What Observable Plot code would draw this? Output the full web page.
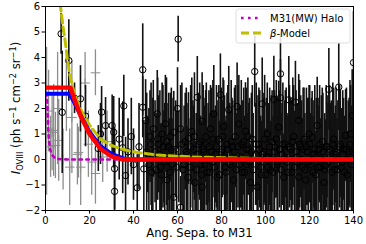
<!DOCTYPE html>
<html><head><meta charset="utf-8">
<script src="https://cdn.jsdelivr.net/npm/d3@7"></script>
<script src="https://cdn.jsdelivr.net/npm/@observablehq/plot@0.6"></script>
<style>body{margin:0;background:#fff;font-family:"DejaVu Sans",sans-serif}#wrap{width:366px;height:244px}</style>
</head><body><div id="wrap"></div><script>
const xTicks = [0,20,40,60,80,100,120,140];
const yTicks = [-2,-1,0,1,2,3,4,5,6];
const xLabel = "Ang. Sepa. to M31";
const legendNames = ["M31(MW) Halo", "-Model"];

// gray points [x, y, err]
const grayPts = [[0.5,1.5,2.9],[1.4,1.9,1.6],[2.3,0.5,1.2],[3,1.06,1.5],[3.7,1.14,1.8],[4.5,0.55,1.3],[5.5,2.0,2.2],[6,0.75,1.6],[8,0.0,1.2],[9.5,2.6,1.5],[11,-0.3,1.5],[12,1.65,2.2],[14.5,0.2,1.2],[15,0.27,1.0],[16,-0.3,1.5],[18,3.0,1.2],[19.5,0.6,1.3],[21,-0.1,1.3],[22.7,3.4,0.9],[22.7,-0.55,1.2],[26,0.1,1.0],[28,0.7,1.2]];

// black points [x, y, err]
const blackPts = [[7.1,4.93,0.8],[7.6,1.85,2.4],[10.6,3.88,1.6],[13.2,2.4,0.6],[15.9,2.38,1.3],[18.2,1.7,1.2],[24,0.43,0.9],[25,1.0,1.2],[25.5,1.86,1.0],[27.3,1.33,1.1],[30.3,1.33,1.2],[31,1.07,1.4],[31.4,-0.36,1.6],[31.4,-1.25,2.0],
[33.5,0.8,1.6],[35.1,0.46,1.8],[35.6,2.1,1.2],[36.4,-0.63,1.5],[37.5,0.3,1.3],[39,0.9,1.5],[40,-0.2,1.4],[41.7,-1.11,1.3],[42.5,0.5,1.7],[44.2,3.52,1.8],[44.2,2.05,1.2],[44.7,-0.37,1.9],[45.5,1.53,1.6],[46.5,0.2,1.5],[47.5,0.9,1.8],[48.3,-0.5,1.6],[49,1.2,1.9],[49.8,0.3,2.0],[50.8,1.79,1.7],[51.5,0.6,1.9],[52.3,-0.3,1.7],[53,1.0,2.0],[53.8,0.1,1.8],[54.5,1.4,1.9],[55.3,-0.8,1.5],[56,0.5,2.1],[56.8,0.9,1.7],[57.5,-0.2,1.8],[58.3,1.07,1.6],[58.3,-1.48,1.5],[59.2,0.4,1.9],[60,2.0,1.6],[60.3,4.72,0.9],[60.6,0.1,1.8],[61.4,1.2,1.7],[61.4,-1.87,1.2],[62.5,-0.4,1.6],[63.5,0.7,1.9],[64.3,0.2,2.0],[65,0.82,1.8],[65.8,-0.3,1.9],[66.5,1.1,2.1],[67.3,0.4,1.7],[68,-0.9,1.6],[69,2.44,1.6],[69.7,0.6,2.0],[70.5,-0.2,1.9],[71.2,1.5,1.9],[71.2,-1.08,1.4],[72,0.3,2.1],[72.8,0.9,1.8],[73.5,-0.5,1.7],[74.3,0.5,2.2],[75,1.2,1.7],[75.8,-0.1,2.0],[76.5,1.79,1.9],[77.3,0.2,1.9],[78,-0.7,1.6],[78.8,0.8,2.1],[79.5,2.54,1.6],[80.3,0.4,1.9],[81,1.29,1.8],[81.8,-0.3,1.8],[82.5,0.6,2.0],[83.3,1.95,1.7],[84,-0.2,2.1],[84.8,0.5,1.9],[85.5,-0.8,1.6],[86.3,0.9,2.0],[87.1,2.08,1.7],[87.9,1.39,1.9],[88.6,0.1,2.0],[89.3,-0.5,1.8],[90.1,0.7,2.1],[90.9,1.11,1.9],[91.6,-0.2,2.0],[92.4,0.4,1.8],[93.2,-0.9,1.5],[94,0.8,2.1],[95.1,3.45,1.4],[95.5,0.2,2.0],[96.2,-1.08,1.4],[97,0.6,2.2],[97.8,-0.3,2.0],[98.5,2.18,1.8],[99.3,0.3,2.1],[100,-0.6,1.8],[100.8,1.0,2.0],[101.5,0.1,2.1],[102.3,-0.4,1.9],[103,0.7,2.0],[103.8,2.35,1.7],[104.5,0.48,2.0],[105.3,-0.2,1.9],[106,1.27,1.8],[106.8,3.36,1.6],[106.8,2.42,1.5],[107.5,0.2,2.0],[108.3,-0.7,1.7],[109,0.6,2.1],[109.8,-0.1,1.9],[110.6,2.34,1.7],[111.3,0.4,2.0],[112,-0.5,1.8],[112.8,0.9,2.0],[113.6,2.25,1.6],[114.3,0.1,2.1],[115.1,1.53,1.8],[115.1,-0.69,1.5],[116,0.5,2.0],[116.8,-0.3,1.9],[117.5,0.8,2.0],[118.3,-0.8,1.6],[119,0.3,2.1],[119.8,1.0,1.9],[120.5,-0.2,2.0],[121.2,0.87,1.8],[122,0.2,2.1],[122.8,-0.6,1.7],[123.5,1.33,1.9],[124.3,0.4,2.0],[125,-0.3,1.9],[125.8,0.7,2.1],[126.5,-0.9,1.5],[127.3,-0.24,1.8],[128,0.5,2.0],[128.8,2.75,1.6],[129.5,0.1,2.1],[130.3,-0.5,1.8],[131,0.8,2.0],[131.8,0.2,1.9],[132.5,-0.4,2.0],[133.3,2.84,1.7],[134,0.6,2.1],[134.8,-0.1,1.9],[135.5,0.4,2.0],[136.4,0.94,1.8],[137.2,-0.6,1.7],[138,0.3,2.1],[138.7,1.0,1.9],[139.4,1.72,1.8],[140,3.8,2.0]];

// more black points in the crowded region [x, y, err]
const blackPts2 = [[46,0.3,2.3],[47,-0.2,2.2],[48,0.6,2.4],[48.8,0.1,2.3],[50.3,-0.4,2.2],[51,0.8,2.4],[52,0.2,2.5],[52.7,-0.6,2.0],[53.4,0.5,2.4],[54.2,-0.1,2.3],[55,0.7,2.5],[55.7,0.0,2.2],[56.5,-0.5,2.1],[57.2,0.4,2.4],[58,0.1,2.3],[59.6,-0.3,2.2],[62,0.6,2.4],[63,-0.2,2.3],[64,0.3,2.5],[64.7,-0.7,2.0],[66,0.5,2.4],[67,0.0,2.3],[67.7,0.9,2.5],[68.5,-0.4,2.2],[69.3,0.2,2.4],[70.1,0.7,2.3],[70.8,-0.6,2.1],[71.7,0.4,2.5],[72.4,-0.2,2.3],[73.1,0.6,2.4],[73.9,0.0,2.2],[74.7,-0.5,2.3],[75.4,0.3,2.5],[76.1,0.8,2.3],[76.9,-0.3,2.2],[77.7,0.5,2.4],[78.4,0.0,2.3],[79.1,-0.6,2.1],[79.9,0.3,2.5],[80.7,0.9,2.3],[81.4,0.1,2.4],[82.1,-0.5,2.2],[82.9,0.4,2.5],[83.7,-0.1,2.3],[84.4,0.7,2.4],[85.1,0.0,2.3],[85.9,0.3,2.5],[86.7,-0.4,2.2],[87.5,0.5,2.4],[88.2,-0.2,2.3],[89,0.6,2.5],[89.7,0.0,2.3],[90.5,-0.5,2.2],[91.3,0.4,2.4],[92,0.9,2.3],[92.8,-0.1,2.5],[93.6,0.3,2.3],[94.4,-0.4,2.2],[95.8,0.6,2.4],[96.6,0.0,2.5],[97.4,0.4,2.3],[98.1,-0.6,2.1],[98.9,0.2,2.4],[99.6,0.8,2.5],[100.4,0.1,2.3],[101.1,-0.3,2.4],[101.9,0.5,2.3],[102.6,0.0,2.5],[103.4,-0.5,2.2],[104.1,0.3,2.4],[104.9,0.8,2.3],[105.6,-0.1,2.5],[106.4,0.4,2.3],[107.1,-0.4,2.2],[107.9,0.6,2.4],[108.7,0.0,2.3],[109.4,0.3,2.5],[110.2,-0.5,2.2],[110.9,0.5,2.4],[111.7,0.0,2.3],[112.4,0.7,2.5],[113.2,-0.3,2.2],[113.9,0.3,2.4],[114.7,-0.1,2.3],[115.5,0.6,2.5],[116.4,0.0,2.3],[117.1,0.4,2.4],[117.9,-0.4,2.2],[118.6,0.5,2.3],[119.4,-0.1,2.5],[120.1,0.6,2.3],[120.9,0.0,2.4],[121.6,-0.5,2.2],[122.4,0.4,2.5],[123.1,0.1,2.3],[123.9,-0.3,2.4],[124.6,0.6,2.3],[125.4,0.0,2.5],[126.1,0.3,2.3],[126.9,-0.4,2.2],[127.6,0.5,2.4],[128.4,-0.1,2.3],[129.1,0.4,2.5],[129.9,0.0,2.3],[130.6,0.6,2.4],[131.4,-0.4,2.2],[132.1,0.3,2.5],[132.9,0.0,2.3],[133.7,0.5,2.4],[134.4,-0.3,2.3],[135.1,0.2,2.5],[135.9,-0.5,2.2],[136.8,0.4,2.4],[137.6,0.0,2.3],[138.4,0.6,2.5],[139.1,-0.2,2.3],[139.7,0.3,2.4]];

// model curves
const haloX = [0.3,0.8,1.0,1.2,1.5,2,2.5,3,4,5,7,10,140];
const haloY = [2.6,2.2,1.7,1.3,0.8,0.45,0.28,0.18,0.08,0.03,0.01,0,0];
const redX = [0,11.4,13,16,20,25,30,35,140];
const redY = [2.82,2.82,2.4,1.7,1.0,0.42,0.12,0,0];
const blueX = [0,10.8,13,16,20,25,30,35,37,140];
const blueY = [2.58,2.58,2.25,1.72,1.08,0.52,0.22,0.05,0,0];
const betaX = [6,6.8,8,9,10,11,12,13,15,17,20,25,30,35,40,50,60,70,80,100,120,140];
const betaY = [6.6,6.0,5.2,4.6,3.9,3.35,2.95,2.65,2.15,1.8,1.35,0.8,0.55,0.4,0.3,0.18,0.13,0.09,0.07,0.04,0.03,0.02];

const toObj = a => a.map(([x,y,e]) => ({x, y, lo: y - e, hi: y + e}));
const gray = toObj(grayPts), black = toObj(blackPts2.concat(blackPts));
const curve = (xs, ys) => xs.map((x,i) => ({x, y: ys[i]}));

const svg = Plot.plot({
  width: 366, height: 244,
  marginLeft: 45, marginRight: 13, marginTop: 6, marginBottom: 34,
  style: {fontFamily: "DejaVu Sans", fontSize: "10px", color: "#000", background: "#fff"},
  x: {domain: [0,140]},
  y: {domain: [-2,6]},
  marks: [
    Plot.ruleX(gray, {x: "x", y1: "lo", y2: "hi", stroke: "#8c8c8c", strokeWidth: 1.3, clip: true}),
    Plot.dot(gray, {x: "x", y: "y", symbol: "plus", r: 3.2, stroke: "#8c8c8c", strokeWidth: 1, clip: true}),
    Plot.ruleX(black, {x: "x", y1: "lo", y2: "hi", stroke: "#111", strokeWidth: 1.6, clip: true}),
    Plot.dot(black, {x: "x", y: "y", r: 3.2, stroke: "#000", fill: "none", strokeWidth: 1, clip: true}),
    Plot.line(curve(haloX, haloY), {x: "x", y: "y", stroke: "#bf00bf", strokeWidth: 2.6, strokeDasharray: "2.6,4.4", clip: true}),
    Plot.line(curve(betaX, betaY), {x: "x", y: "y", stroke: "#bfbf00", strokeWidth: 3, strokeDasharray: "8,4", clip: true}),
    Plot.line(curve(blueX, blueY), {x: "x", y: "y", stroke: "#0000ff", strokeWidth: 4, clip: true}),
    Plot.line(curve(redX, redY), {x: "x", y: "y", stroke: "#ff0000", strokeWidth: 4.4, clip: true}),
    Plot.frame({stroke: "#000", strokeWidth: 1}),
    Plot.axisX({ticks: xTicks, tickSize: 3.5, tickPadding: 3, label: null, fontSize: 10}),
    Plot.axisY({ticks: yTicks, tickSize: 3.5, tickPadding: 2, label: null, fontSize: 10, tickFormat: d => d < 0 ? "\u2212" + Math.abs(d) : String(d)}),
    Plot.text([xLabel], {frameAnchor: "bottom", dy: 26, fontSize: 11.6, fill: "#000"})
  ]
});
document.getElementById("wrap").appendChild(svg);

const s = d3.select(svg);
// y label with sub/superscripts
const yl = s.append("text")
  .attr("transform", "translate(20,108) rotate(-90)")
  .attr("text-anchor", "middle")
  .attr("font-size", 11.7).attr("fill", "#000")
  .attr("font-family", "DejaVu Sans");
yl.append("tspan").attr("font-style", "italic").text("I");
yl.append("tspan").attr("font-size", 8.2).attr("dy", 2.5).text("OVIII");
yl.append("tspan").attr("dy", -2.5).text(" (ph s");
yl.append("tspan").attr("font-size", 8.2).attr("dy", -4.5).text("\u22121");
yl.append("tspan").attr("dy", 4.5).text(" cm");
yl.append("tspan").attr("font-size", 8.2).attr("dy", -4.5).text("\u22122");
yl.append("tspan").attr("dy", 4.5).text(" sr");
yl.append("tspan").attr("font-size", 8.2).attr("dy", -4.5).text("\u22121");
yl.append("tspan").attr("dy", 4.5).text(")");

// legend
const lg = s.append("g").attr("font-family", "DejaVu Sans").attr("font-size", 10).attr("text-anchor", "start");
lg.append("rect").attr("x", 236).attr("y", 9).attr("width", 114).attr("height", 34).attr("rx", 2.5)
  .attr("fill", "#fff").attr("fill-opacity", 0.85).attr("stroke", "#d6d6d6").attr("stroke-width", 0.8);
lg.append("line").attr("x1", 241).attr("x2", 262).attr("y1", 18).attr("y2", 18)
  .attr("stroke", "#bf00bf").attr("stroke-width", 2.6).attr("stroke-dasharray", "2.6,4.4");
lg.append("line").attr("x1", 241).attr("x2", 262).attr("y1", 33).attr("y2", 33)
  .attr("stroke", "#bfbf00").attr("stroke-width", 3).attr("stroke-dasharray", "8,4");
lg.append("text").attr("x", 270).attr("y", 21.5).attr("text-anchor", "start").attr("fill", "#000").text(legendNames[0]);
const t2 = lg.append("text").attr("x", 270).attr("y", 36.5).attr("text-anchor", "start").attr("fill", "#000");
t2.append("tspan").attr("font-style", "italic").text("\u03B2");
t2.append("tspan").text(legendNames[1]);
</script></body></html>
